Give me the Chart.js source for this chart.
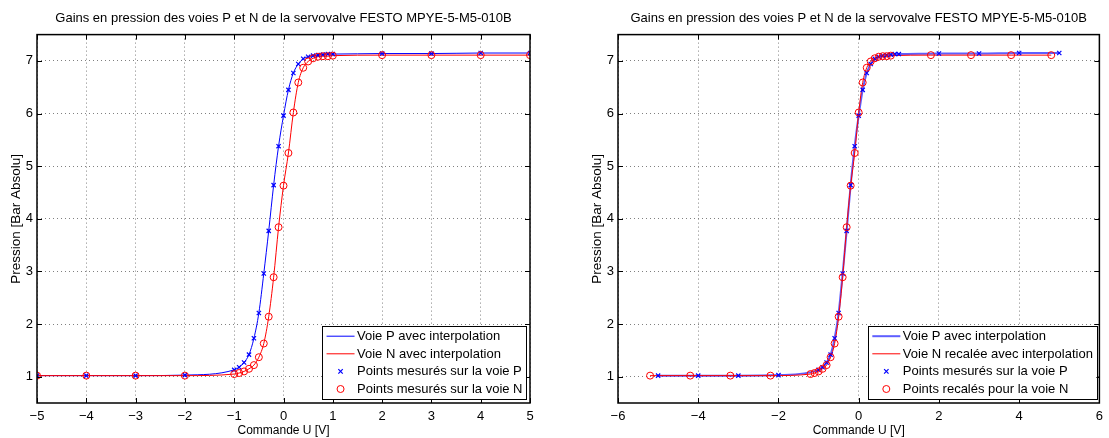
<!DOCTYPE html>
<html lang="fr">
<head>
<meta charset="UTF-8">
<title>Gains en pression - servovalve FESTO MPYE-5-M5-010B</title>
<style>
  body { margin: 0; background: #fff; }
  canvas { position: absolute; top: 0; }
  #gauche { left: 0; }
  #droite { left: 581px; }
</style>
</head>
<body>
<canvas id="gauche" width="581" height="438"></canvas>
<canvas id="droite" width="528" height="438"></canvas>
<script src="https://cdn.jsdelivr.net/npm/chart.js"></script>
<script>
// valeurs
const uMesure = [-5, -4, -3, -2, -1, -0.9, -0.8, -0.7, -0.6, -0.5, -0.4, -0.3, -0.2, -0.1, 0,
                 0.1, 0.2, 0.3, 0.4, 0.5, 0.6, 0.7, 0.8, 0.9, 1, 2, 3, 4, 5];
const pressionP = [1.02, 1.02, 1.02, 1.03, 1.13, 1.18, 1.27, 1.42, 1.73, 2.21, 2.96, 3.77, 4.64, 5.38, 5.96,
                   6.45, 6.77, 6.94, 7.04, 7.08, 7.10, 7.11, 7.12, 7.13, 7.13, 7.14, 7.14, 7.15, 7.15];
const pressionN = [1.02, 1.02, 1.02, 1.02, 1.05, 1.07, 1.10, 1.15, 1.22, 1.37, 1.63, 2.14, 2.89, 3.84, 4.63,
                   5.25, 6.02, 6.59, 6.87, 6.99, 7.05, 7.08, 7.09, 7.09, 7.10, 7.11, 7.11, 7.11, 7.11];
// commandes de la voie N recalees (figure de droite)
const uRecaleN = [-5.2, -4.2, -3.2, -2.2, -1.2, -1.1, -1.0, -0.9, -0.8, -0.7, -0.6, -0.5, -0.4, -0.3, -0.2,
                  -0.1, 0, 0.1, 0.2, 0.3, 0.4, 0.5, 0.6, 0.7, 0.8, 1.8, 2.8, 3.8, 4.8];

const ticksY = [1, 2, 3, 4, 5, 6, 7];
const ticksXGauche = [-5, -4, -3, -2, -1, 0, 1, 2, 3, 4, 5];
const ticksXDroite = [-6, -4, -2, 0, 2, 4, 6];

const titre = 'Gains en pression des voies P et N de la servovalve FESTO MPYE-5-M5-010B';
const titreX = 'Commande U [V]';
const titreY = 'Pression [Bar Absolu]';
const legendeGauche = ['Voie P avec interpolation', 'Voie N avec interpolation',
                       'Points mesurés sur la voie P', 'Points mesurés sur la voie N'];
const legendeDroite = ['Voie P avec interpolation', 'Voie N recalée avec interpolation',
                       'Points mesurés sur la voie P', 'Points recalés pour la voie N'];

const police = 'Liberation Sans, Arial, Helvetica, sans-serif';
const BLEU = '#0000ff';
const ROUGE = '#ff0000';

function points(xs, ys) {
    return xs.map(function (x, i) { return { x: x, y: ys[i] }; });
}

// cadre noir, graduations interieures et legende facon Matlab
const cadreMatlab = {
    id: 'cadreMatlab',
    afterDatasetsDraw(chart) {
        const a = chart.chartArea;
        const ctx = chart.ctx;
        const sx = chart.scales.x, sy = chart.scales.y;
        ctx.save();
        ctx.strokeStyle = '#000';
        ctx.lineWidth = 1;
        ctx.beginPath();
        sx.ticks.forEach(function (t) {
            const px = Math.round(sx.getPixelForValue(t.value)) + 0.5;
            ctx.moveTo(px, a.bottom); ctx.lineTo(px, a.bottom - 5);
            ctx.moveTo(px, a.top); ctx.lineTo(px, a.top + 5);
        });
        sy.ticks.forEach(function (t) {
            const py = Math.round(sy.getPixelForValue(t.value)) + 0.5;
            ctx.moveTo(a.left, py); ctx.lineTo(a.left + 5, py);
            ctx.moveTo(a.right, py); ctx.lineTo(a.right - 5, py);
        });
        ctx.stroke();
        ctx.lineWidth = 1.5;
        ctx.strokeRect(a.left, a.top, a.right - a.left, a.bottom - a.top);

        // legende
        const opts = chart.options.plugins.cadreMatlab;
        const ds = chart.data.datasets;
        ctx.font = '13px ' + police;
        let largeur = 0;
        ds.forEach(function (d) { largeur = Math.max(largeur, ctx.measureText(d.label).width); });
        const hLigne = 17.6;
        const w = 4.5 + 28 + 2.5 + largeur + 3.5;
        const h = hLigne * ds.length + 3;
        const x0 = a.right - opts.marge - w;
        const y0 = a.bottom - 4 - h;
        ctx.fillStyle = '#fff';
        ctx.fillRect(x0, y0, w, h);
        ctx.lineWidth = 1;
        ctx.strokeStyle = '#000';
        ctx.strokeRect(Math.round(x0) + 0.5, Math.round(y0) + 0.5, Math.round(w), Math.round(h));
        ds.forEach(function (d, i) {
            const cy = y0 + 1.8 + hLigne / 2 + i * hLigne;
            const cx = x0 + 4.5 + 14;
            ctx.strokeStyle = d.borderColor;
            ctx.lineWidth = d.borderWidth;
            ctx.beginPath();
            if (d.showLine) {
                ctx.moveTo(x0 + 4.5, cy); ctx.lineTo(x0 + 32.5, cy);
            } else if (d.pointStyle === 'crossRot') {
                const r = 2.2;
                ctx.moveTo(cx - r, cy - r); ctx.lineTo(cx + r, cy + r);
                ctx.moveTo(cx - r, cy + r); ctx.lineTo(cx + r, cy - r);
            } else {
                ctx.arc(cx, cy, d.pointRadius, 0, Math.PI * 2);
            }
            ctx.stroke();
            ctx.fillStyle = '#000';
            ctx.textBaseline = 'middle';
            ctx.textAlign = 'left';
            ctx.fillText(d.label, x0 + 35, cy + 0.5);
        });
        ctx.restore();
    }
};

function moinsTypo(v) {
    return String(v).replace('-', '\u2212');
}

function faireGraphe(id, xMin, xMax, ticksX, datasets, margeDroite, margeLegende) {
    return new Chart(document.getElementById(id), {
        type: 'scatter',
        data: { datasets: datasets },
        plugins: [cadreMatlab],
        options: {
            responsive: false,
            animation: false,
            layout: { padding: { left: 0, right: margeDroite, top: 0, bottom: 0 } },
            scales: {
                x: {
                    type: 'linear', min: xMin, max: xMax,
                    afterBuildTicks: function (s) { s.ticks = ticksX.map(function (v) { return { value: v }; }); },
                    afterFit: function (s) { s.height = 35; },
                    ticks: { color: '#000', padding: 6, font: { family: police, size: 13 }, callback: moinsTypo, maxRotation: 0 },
                    grid: { color: '#808080', drawTicks: false },
                    border: { display: false, dash: [1, 3] },
                    title: { display: true, text: titreX, color: '#000', padding: { top: 0, bottom: 0 }, font: { family: police, size: 12 } }
                },
                y: {
                    type: 'linear', min: 0.5, max: 7.5,
                    afterBuildTicks: function (s) { s.ticks = ticksY.map(function (v) { return { value: v }; }); },
                    afterFit: function (s) { s.width = 37; },
                    ticks: { color: '#000', padding: 4, font: { family: police, size: 13 } },
                    grid: { color: '#808080', drawTicks: false },
                    border: { display: false, dash: [1, 3] },
                    title: { display: true, text: titreY, color: '#000', padding: { top: 8, bottom: 0 }, font: { family: police, size: 13.5 } }
                }
            },
            plugins: {
                legend: { display: false },
                tooltip: { enabled: false },
                title: {
                    display: true, text: titre, color: '#000', fullSize: false,
                    font: { family: police, size: 13, weight: 'normal' },
                    padding: { top: 11, bottom: 8 }
                },
                cadreMatlab: { marge: margeLegende }
            }
        }
    });
}

function jeux(legende, xN, couleurP, largeurP) {
    return [
        { label: legende[0], data: points(uMesure, pressionP), showLine: true, borderColor: couleurP, borderWidth: largeurP,
          pointRadius: 0, cubicInterpolationMode: 'monotone', order: 3 },
        { label: legende[1], data: points(xN, pressionN), showLine: true, borderColor: ROUGE, borderWidth: 1,
          pointRadius: 0, cubicInterpolationMode: 'monotone', order: 2 },
        { label: legende[2], data: points(uMesure, pressionP), showLine: false, pointStyle: 'crossRot', pointRadius: 3,
          borderColor: BLEU, backgroundColor: BLEU, borderWidth: 1.2, order: 1 },
        { label: legende[3], data: points(xN, pressionN), showLine: false, pointStyle: 'circle', pointRadius: 3.5,
          borderColor: ROUGE, backgroundColor: 'rgba(0,0,0,0)', borderWidth: 1, order: 0 }
    ];
}

const grapheGauche = faireGraphe('gauche', -5, 5, ticksXGauche, jeux(legendeGauche, uMesure, BLEU, 1), 51, 4);
const grapheDroite = faireGraphe('droite', -6, 6, ticksXDroite, jeux(legendeDroite, uRecaleN, 'rgba(40,40,255,0.75)', 2), 4, 3);
</script>
</body>
</html>
